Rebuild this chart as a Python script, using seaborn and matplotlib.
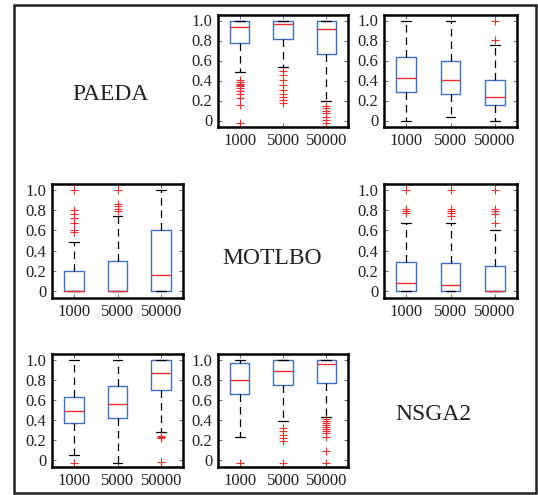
import matplotlib
matplotlib.use("Agg")
from matplotlib import pyplot as plt
from matplotlib.patches import Rectangle
import numpy as np
import pandas as pd
import seaborn as sns

# budgets on the x axis
budgets = ["1000", "5000", "50000"]
algos = ["PAEDA", "MOTLBO", "NSGA2"]

# box summaries per panel: (q1, median, q3, lower whisker, upper whisker, fliers)
# row 1, col 2
paeda_motlbo = [
    (0.78, 0.94, 1.0, 0.49, 1.0, [0.41, 0.39, 0.37, 0.36, 0.35, 0.33, 0.30, 0.27, 0.23, 0.16, -0.02]),
    (0.813, 0.963, 1.0, 0.54, 1.0, [0.50, 0.46, 0.41, 0.36, 0.31, 0.27, 0.24, 0.21, 0.18]),
    (0.667, 0.913, 1.0, 0.197, 1.0, [0.147, 0.123, 0.10, 0.073, 0.033, 0.007, -0.027]),
]
# row 1, col 3
paeda_nsga2 = [
    (0.29, 0.43, 0.64, 0.0, 1.0, []),
    (0.27, 0.41, 0.60, 0.033, 1.0, []),
    (0.155, 0.24, 0.41, 0.0, 0.76, [0.81, 1.0]),
]
# row 2, col 1
motlbo_paeda = [
    (0.0, 0.0, 0.20, 0.0, 0.49, [1.0, 0.80, 0.76, 0.72, 0.67, 0.60, 0.58]),
    (0.0, 0.0, 0.30, 0.0, 0.74, [1.0, 0.86, 0.84, 0.81, 0.79]),
    (0.0, 0.16, 0.60, 0.0, 1.0, []),
]
# row 2, col 3
motlbo_nsga2 = [
    (0.0, 0.085, 0.29, 0.0, 0.67, [1.0, 0.81, 0.79, 0.77]),
    (0.0, 0.06, 0.28, 0.0, 0.67, [1.0, 0.81, 0.79, 0.77, 0.74]),
    (0.0, 0.0, 0.245, 0.0, 0.60, [1.0, 0.81, 0.79, 0.76, 0.67]),
]
# row 3, col 1
nsga2_paeda = [
    (0.375, 0.49, 0.625, 0.057, 1.0, [-0.027]),
    (0.417, 0.557, 0.74, -0.027, 1.0, []),
    (0.70, 0.863, 1.0, 0.28, 1.0, [0.245, 0.235, 0.225, -0.02]),
]
# row 3, col 2
nsga2_motlbo = [
    (0.663, 0.797, 0.963, 0.233, 1.0, [-0.027]),
    (0.75, 0.89, 1.0, 0.39, 1.0, [0.317, 0.29, 0.257, 0.223, 0.197, -0.027]),
    (0.77, 0.957, 1.0, 0.43, 1.0, [0.41, 0.39, 0.37, 0.35, 0.33, 0.31, 0.29, 0.27, 0.233, 0.09, -0.027]),
]

panels = {
    (0, 1): paeda_motlbo,
    (0, 2): paeda_nsga2,
    (1, 0): motlbo_paeda,
    (1, 2): motlbo_nsga2,
    (2, 0): nsga2_paeda,
    (2, 1): nsga2_motlbo,
}


def sample(q1, med, q3, lo, hi, fl):
    # values whose quartiles/whiskers give the box
    low = sorted(f for f in fl if f < q1) + [lo]
    high = [hi] + sorted(f for f in fl if f > q3)
    k = max(len(low), len(high))
    return low + [q1] * (k + 1 - len(low)) + [med] * k + [q3] * k + [q3] * (k - len(high)) + high


sns.set_style("ticks")
plt.rcParams["font.family"] = ["Liberation Serif", "DejaVu Serif"]

W, H = 538, 495
fig = plt.figure(figsize=(W / 100, H / 100), dpi=100)

cols = [(52, 183), (218, 348), (384, 517)]
rows = [(15, 127), (184, 298), (354, 467)]

blue = "#3f6fc6"
red = "#ec2f2f"

for (r, c), boxes in panels.items():
    x0, x1 = cols[c]
    y0, y1 = rows[r]
    ax = fig.add_axes([x0 / W, 1 - y1 / H, (x1 - x0) / W, (y1 - y0) / H])
    recs = []
    for b, s in zip(budgets, boxes):
        for v in sample(*s):
            recs.append({"budget": b, "value": v})
    df = pd.DataFrame(recs)
    sns.boxplot(data=df, x="budget", y="value", order=budgets, ax=ax,
                color=blue, fill=False, saturation=1, width=0.45, whis=1.5,
                linewidth=1.0,
                boxprops={"color": blue, "linewidth": 1.0},
                medianprops={"color": red, "linewidth": 1.0},
                whiskerprops={"color": "black", "linewidth": 0.9, "linestyle": (0, (6, 4))},
                capprops={"color": "black", "linewidth": 0.9},
                flierprops={"marker": "+", "markeredgecolor": red, "markersize": 6,
                            "markeredgewidth": 0.8})
    ax.set_xlim(-0.5, 2.5)
    ax.set_ylim(-0.065, 1.055)
    ax.set_yticks([0, 0.2, 0.4, 0.6, 0.8, 1.0])
    ax.set_yticklabels(["0", "0.2", "0.4", "0.6", "0.8", "1.0"])
    ax.set_xlabel("")
    ax.set_ylabel("")
    for sp in ax.spines.values():
        sp.set_visible(True)
        sp.set_linewidth(1.8)
        sp.set_color("black")
    ax.tick_params(direction="in", top=True, right=True, length=3, width=0.6,
                   color="0.35", labelsize=12, labelcolor="#222222", pad=4)

label_pos = [(110.5, 94), (272, 259), (433, 414)]
for name, (px, py) in zip(algos, label_pos):
    fig.text(px / W, 1 - py / H, name, ha="center", va="center", fontsize=17, color="#222222")

fig.patches.append(Rectangle((14 / W, 1 - 492.5 / H), (536 - 14) / W, (492.5 - 5.3) / H,
                             transform=fig.transFigure, fill=False, edgecolor="#222222",
                             linewidth=1.8))

fig.savefig("out.png", dpi=100)
